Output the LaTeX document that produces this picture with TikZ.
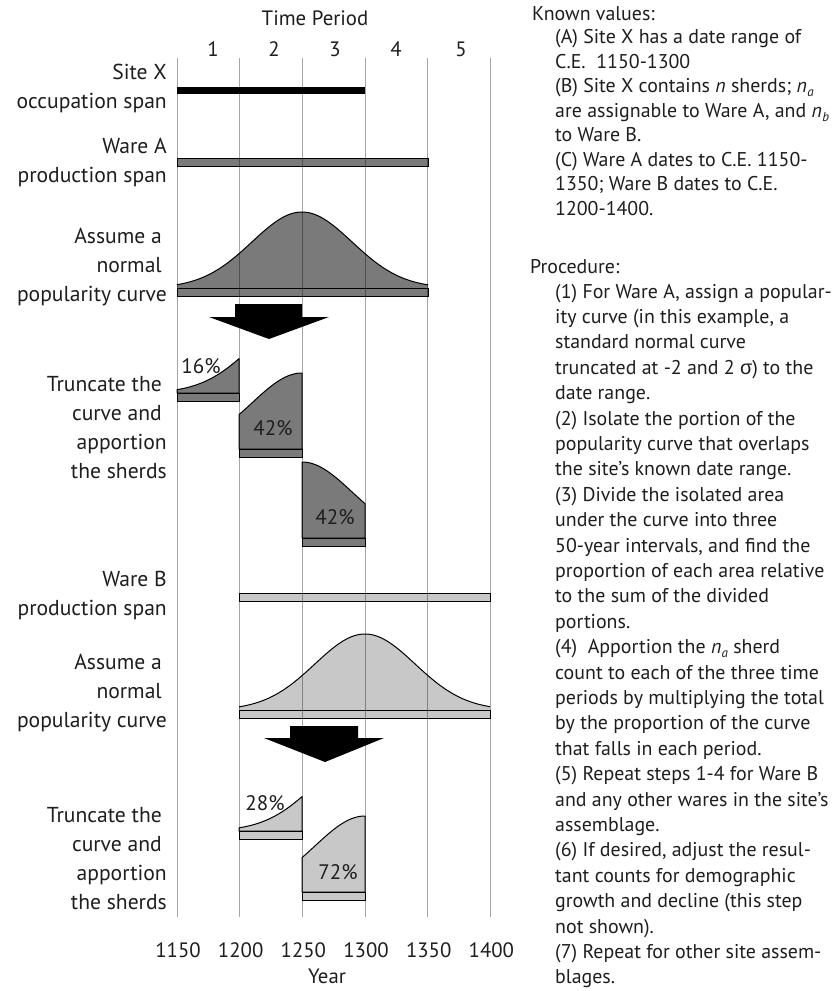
\documentclass[tikz,border=0pt]{standalone}
\usepackage{fontspec}
\setmainfont{PT Sans}
\newfontfamily\greekfont{Liberation Sans}
\definecolor{wareA}{HTML}{7A7A7A}
\definecolor{wareB}{HTML}{C8C8C8}
\definecolor{ink}{HTML}{1E1E1E}
\newcommand{\nsub}[1]{\textit{n}\kern0.3pt\raisebox{-0.22em}{\fontsize{13}{13}\selectfont\textit{#1}}}
\tikzset{
  lbl/.style={font=\fontsize{21.6}{29}\selectfont, text=ink, anchor=base east, inner sep=0pt},
  num/.style={font=\fontsize{20.8}{24}\selectfont, text=ink, anchor=base, inner sep=0pt},
  pct/.style={font=\fontsize{21}{22}\selectfont, text=ink, anchor=center, inner sep=0pt},
  rt/.style={font=\fontsize{19.9}{24}\selectfont, text=ink, anchor=base west, inner sep=0pt},
  spanbar/.style={draw=black, line width=1pt},
  gridline/.style={draw=black, draw opacity=0.35, line width=0.9pt},
  bigarrow/.style={fill=black}
}
\newcommand{\gpiece}[5]{% x-start, x-end, centre, base y, colour
  \draw[line width=1pt, fill=#5, line join=round] (#1,#4) -- plot[domain=#1:#2, samples=50] (\x, {#4-76*exp(-0.5*((\x-#3)/50)^2)}) -- (#2,#4) -- cycle;
}
\begin{document}
\begin{tikzpicture}[x=1pt, y=-1pt]
\useasboundingbox (0,0) rectangle (839,991);
\fill[white] (0,0) rectangle (839,991);

% header
\node[num, name=tp] at (315,25) {Time Period};
\node[num, name=p1] at (213,56) {1};
\node[num, name=p2] at (274,56) {2};
\node[num, name=p3] at (335,56) {3};
\node[num, name=p4] at (396,56) {4};
\node[num, name=p5] at (461,56) {5};

% left labels
\node[lbl, name=l1] at (167,79) {Site X};
\node[lbl, name=l2] at (167,108) {occupation span};
\node[lbl, name=l3] at (167,153) {Ware A};
\node[lbl, name=l4] at (167,182) {production span};
\node[lbl, name=l5] at (162,243) {Assume a};
\node[lbl, name=l6] at (162,272) {normal};
\node[lbl, name=l7] at (167,301) {popularity curve};
\node[lbl, name=l8] at (162,391) {Truncate the};
\node[lbl, name=l9] at (162,420) {curve and};
\node[lbl, name=l10] at (167,449) {apportion};
\node[lbl, name=l11] at (167,478) {the sherds};
\node[lbl, name=l12] at (167,586) {Ware B};
\node[lbl, name=l13] at (167,615) {production span};
\node[lbl, name=l14] at (162,669) {Assume a};
\node[lbl, name=l15] at (162,698) {normal};
\node[lbl, name=l16] at (167,727) {popularity curve};
\node[lbl, name=l17] at (162,822) {Truncate the};
\node[lbl, name=l18] at (162,851) {curve and};
\node[lbl, name=l19] at (167,880) {apportion};
\node[lbl, name=l20] at (167,909) {the sherds};

% spans
\fill[black] (177,87) rectangle (365,94);
\draw[spanbar, fill=wareA] (177,158) rectangle (428,166);
% Ware A curve
\fill[wareA] (177,288) -- plot[domain=177:428, samples=90] (\x, {288-76*exp(-0.5*((\x-302)/50)^2)}) -- (428,288) -- cycle;
\draw[line width=1pt] plot[domain=177:428, samples=90] (\x, {288-76*exp(-0.5*((\x-302)/50)^2)});
\draw[spanbar, fill=wareA] (177,288) rectangle (428,296);
% arrow 1
\fill[bigarrow] (235,304) -- (302,304) -- (302,317) -- (329,317) -- (269,339) -- (209,317) -- (235,317) -- cycle;
% truncated A
\gpiece{177}{239}{302}{393}{wareA}
\draw[spanbar, fill=wareA] (177,393) rectangle (239,401);
\gpiece{239}{302}{302}{449}{wareA}
\draw[spanbar, fill=wareA] (239,449) rectangle (302,457);
\gpiece{302}{365}{302}{538}{wareA}
\draw[spanbar, fill=wareA] (302,538) rectangle (365,546);
\node[pct, name=a1] at (201,366) {16\%};
\node[pct, name=a2] at (273,428) {42\%};
\node[pct, name=a3] at (335,517) {42\%};

% Ware B
\draw[spanbar, fill=wareB] (239,593) rectangle (490,601);
\fill[wareB] (239,710) -- plot[domain=239:490, samples=90] (\x, {710-76*exp(-0.5*((\x-365)/50)^2)}) -- (490,710) -- cycle;
\draw[line width=1pt] plot[domain=239:490, samples=90] (\x, {710-76*exp(-0.5*((\x-365)/50)^2)});
\draw[spanbar, fill=wareB] (239,710) rectangle (490,718);
% arrow 2
\fill[bigarrow] (290,726) -- (358,726) -- (358,738) -- (384,738) -- (325,762) -- (264,738) -- (290,738) -- cycle;
% truncated B
\gpiece{239}{302}{365}{831}{wareB}
\draw[spanbar, fill=wareB] (239,831) rectangle (302,839);
\gpiece{302}{365}{365}{892}{wareB}
\draw[spanbar, fill=wareB] (302,892) rectangle (365,900);
\node[pct, name=b1] at (265,803) {28\%};
\node[pct, name=b2] at (338,872) {72\%};

% grid lines
\foreach \i in {0,...,5} {
  \draw[gridline] ({177+62.67*\i},58) -- ({177+62.67*\i},917);
}

% years
\foreach \yr [count=\i from 0] in {1150,1200,1250,1300,1350,1400} {
  \node[num, name=y\i] at ({178+62.67*\i},957) {\yr};
}
\node[num, name=yr] at (327,983) {Year};

% right text
\node[rt, name=kh] at (532,20) {Known values:};
\foreach \t [count=\i from 0] in {
 {(A) Site X has a date range of},
 {C.E. \ 1150-1300},
 {(B) Site X contains \textit{n} sherds; \nsub{a}},
 {are assignable to Ware A, and \nsub{b}},
 {to Ware B.},
 {(C) Ware A dates to C.E. 1150-},
 {1350; Ware B dates to C.E.},
 {1200-1400.}} {
  \node[rt, name=k\i] at (555,{43.5+24.5*\i}) {\t};
}
\node[rt, name=ph] at (530,273) {Procedure:};
\foreach \t [count=\i from 0] in {
 {(1) For Ware A, assign a popular-},
 {ity curve (in this example, a},
 {standard normal curve},
 {truncated at -2 and 2 {\greekfont σ}) to the},
 {date range.},
 {(2) Isolate the portion of the},
 {popularity curve that overlaps},
 {the site’s known date range.},
 {(3) Divide the isolated area},
 {under the curve into three},
 {50-year intervals, and find the},
 {proportion of each area relative},
 {to the sum of the divided},
 {portions.},
 {(4) \ Apportion the \nsub{a} sherd},
 {count to each of the three time},
 {periods by multiplying the total},
 {by the proportion of the curve},
 {that falls in each period.},
 {(5) Repeat steps 1-4 for Ware B},
 {and any other wares in the site’s},
 {assemblage.},
 {(6) If desired, adjust the resul-},
 {tant counts for demographic},
 {growth and decline (this step},
 {not shown).},
 {(7) Repeat for other site assem-},
 {blages.}} {
  \node[rt, name=q\i] at (555,{298+25.4*\i}) {\t};
}
\end{tikzpicture}
\end{document}
